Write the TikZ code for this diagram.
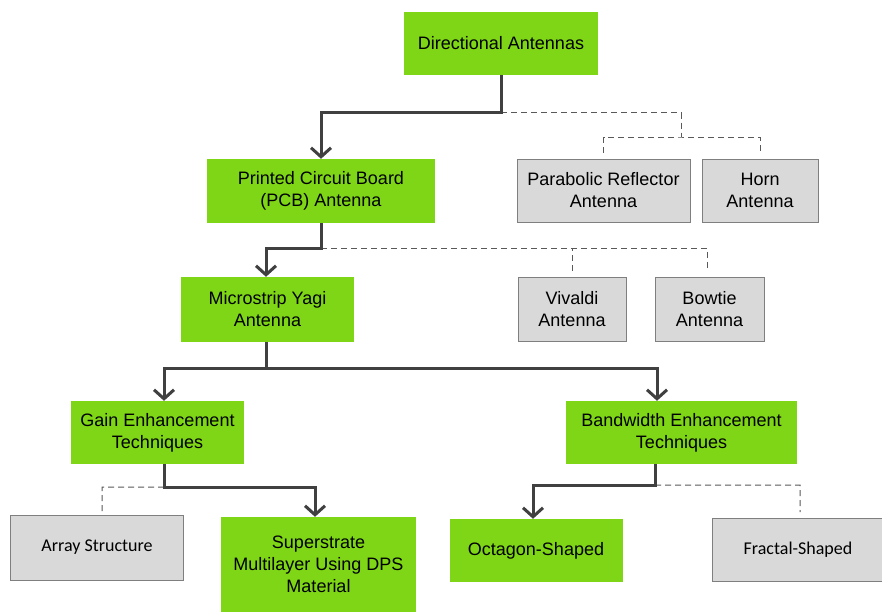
\documentclass[tikz,border=0pt]{standalone}
\usepackage{fontspec}
\setmainfont{Liberation Sans}
\newfontfamily\calfont{Carlito}
\usepackage{xcolor}
\usepackage{tikz}
\usetikzlibrary{arrows.meta, positioning}

\definecolor{leaf}{RGB}{126,214,22}
\definecolor{boxgray}{RGB}{217,217,217}
\definecolor{edgegray}{RGB}{127,127,127}
\definecolor{linegray}{RGB}{64,64,64}
\definecolor{dashgray}{RGB}{89,89,89}

\begin{document}
\begin{tikzpicture}[x=1pt, y=-1pt,
			>={Straight Barb[length=9pt, width=20pt]},
			font=\fontsize{18}{22}\selectfont,
			greenbox/.style={fill=leaf, align=center, inner sep=0pt, minimum height=63},
			graybox/.style={fill=boxgray, draw=edgegray, line width=1pt, align=center, inner sep=0pt, minimum height=63},
			solidline/.style={draw=linegray, line width=3pt},
			dashline/.style={draw=dashgray, line width=1pt, dash pattern=on 6pt off 4pt}]
			
			\useasboundingbox[fill=white] (0,0) rectangle (882,613);
			
			\node[greenbox, minimum width=194] (dir) at (501,43) {Directional Antennas};
			\node[greenbox, minimum width=228, minimum height=64] (pcb) at (321,191) {Printed Circuit Board\\(PCB) Antenna};
			\node[graybox, minimum width=173] (par) at (603.5,190.5) {Parabolic Reflector\\Antenna};
			\node[graybox, minimum width=116] (horn) at (760,190.5) {Horn\\Antenna};
			\node[greenbox, minimum width=173, minimum height=65] (yagi) at (267.5,309.5) {Microstrip Yagi\\Antenna};
			\node[graybox, minimum width=108, minimum height=64] (viv) at (572,309) {Vivaldi\\Antenna};
			\node[graybox, minimum width=109, minimum height=64] (bow) at (709.5,309) {Bowtie\\Antenna};
			\node[greenbox, minimum width=173] (gain) at (157.5,432.5) {Gain Enhancement\\Techniques};
			\node[greenbox, minimum width=231] (band) at (681.5,432.5) {Bandwidth Enhancement\\Techniques};
			\node[graybox, minimum width=173, minimum height=65, font=\calfont\fontsize{18}{22}\selectfont] (arr) at (97,547.5) {Array Structure};
			\node[greenbox, minimum width=195, minimum height=95] (sup) at (318.5,564.5) {Superstrate\\Multilayer Using DPS\\Material};
			\node[greenbox, minimum width=173] (oct) at (536,550.5) {Octagon-Shaped};
			\node[graybox, minimum width=172, font=\calfont\fontsize{18}{22}\selectfont] (frac) at (798,550) {Fractal-Shaped};
			
			\coordinate (j1) at (681,137);
			\coordinate (j2) at (707,248);
			\coordinate (j3) at (102,487);
			\coordinate (j4) at (800,485);
			
			\draw[dashline] (dir.south) ++(0,38) -| (j1);
			\draw[dashline] ([yshift=6pt]par.north) |- (j1) -| ([yshift=6pt]horn.north);
			\draw[solidline, ->] (dir.south) -- ++(0,38) -| (pcb.north);
			
			\draw[dashline] (pcb.south) ++(0,25) -| (j2) -- ([yshift=6pt]bow.north -| j2);
			\draw[dashline] ([yshift=6pt]viv.north) -- (viv.north |- j2);
			\draw[solidline, ->] (pcb.south) -- ++(0,25) -| ([xshift=-1.5pt]yagi.north);
			
			\draw[solidline, ->] ([xshift=-1.5pt]yagi.south) -- ++(0,26) -| ([xshift=6.5pt]gain.north);
			\draw[solidline, ->] ([xshift=-1.5pt]yagi.south) ++(0,26) -| ([xshift=-24.5pt]band.north);
			
			\draw[dashline] ([xshift=6.5pt]gain.south) ++(0,23) -- (j3) -- ([yshift=3pt]arr.north -| j3);
			\draw[solidline, ->] ([xshift=6.5pt]gain.south) -- ++(0,23) -| ([xshift=-3.5pt]sup.north);
			
			\draw[dashline] ([xshift=-26.5pt]band.south) ++(0,21) -- (j4) -- ([yshift=6pt]frac.north -| j4);
			\draw[solidline, ->] ([xshift=-26.5pt]band.south) -- ++(0,21) -| ([xshift=-3pt]oct.north);
		\end{tikzpicture}
\end{document}
